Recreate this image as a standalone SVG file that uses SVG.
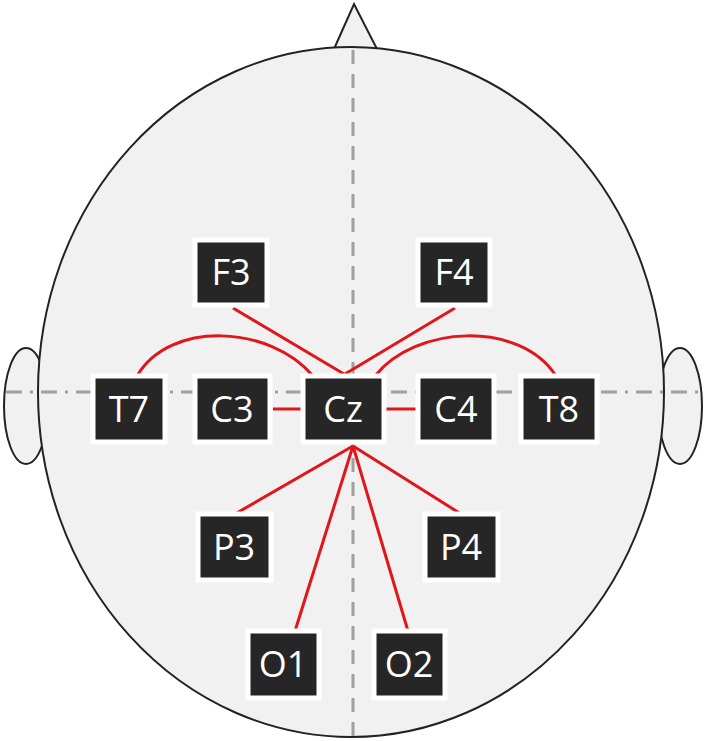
<svg xmlns="http://www.w3.org/2000/svg" width="708" height="741" viewBox="0 0 708 741">
<style>
.head{fill:#f1f1f1;stroke:#222;stroke-width:2}
.guide{stroke:#a0a0a0;stroke-width:3;fill:none}
.n rect{fill:#262626;stroke:#fff;stroke-width:5}
.n text{fill:#fff;font-family:"Open Sans","DejaVu Sans",sans-serif;font-size:36px;text-anchor:middle}
.c{stroke:#e0161b;stroke-width:3;fill:none}
</style>
<rect width="708" height="741" fill="#fff"/>
<g id="head">
<ellipse class="head" cx="26" cy="406" rx="22" ry="58"/>
<ellipse class="head" cx="680" cy="406" rx="22" ry="58"/>
<path class="head" d="M334,49 L354,4 L377,49 Z"/>
<ellipse class="head" cx="351" cy="392" rx="313" ry="345"/>
<line class="guide" x1="353" y1="50" x2="353" y2="737" stroke-dasharray="14,10"/>
<line class="guide" x1="6" y1="392" x2="700" y2="392" stroke-dasharray="16,8,3,8"/>
</g>
<g id="connectors">
<line class="c" x1="233" y1="308" x2="344" y2="374"/>
<line class="c" x1="455" y1="308" x2="345" y2="374"/>
<path class="c" d="M137,376 C170,320 270,325 313,376"/>
<path class="c" d="M375,376 C415,325 520,320 556,376"/>
<line class="c" x1="273" y1="409" x2="303" y2="409"/>
<line class="c" x1="384" y1="409" x2="416" y2="409"/>
<line class="c" x1="353" y1="446" x2="235" y2="514"/>
<line class="c" x1="353" y1="446" x2="295" y2="631"/>
<line class="c" x1="353" y1="446" x2="408" y2="631"/>
<line class="c" x1="353" y1="446" x2="461" y2="514"/>
</g>
<g id="F3" class="n"><rect x="195" y="240" width="72" height="65"/><text x="231" y="285">F3</text></g>
<g id="F4" class="n"><rect x="418" y="240" width="72" height="65"/><text x="454" y="285">F4</text></g>
<g id="T7" class="n"><rect x="93" y="376" width="72" height="66"/><text x="129" y="422">T7</text></g>
<g id="C3" class="n"><rect x="195" y="376" width="75" height="66"/><text x="232" y="422">C3</text></g>
<g id="Cz" class="n"><rect x="303" y="376" width="81" height="66"/><text x="343" y="422">Cz</text></g>
<g id="C4" class="n"><rect x="418" y="376" width="76" height="66"/><text x="456" y="422">C4</text></g>
<g id="T8" class="n"><rect x="521" y="376" width="76" height="66"/><text x="559" y="422">T8</text></g>
<g id="P3" class="n"><rect x="198" y="514" width="73" height="66"/><text x="234" y="560">P3</text></g>
<g id="P4" class="n"><rect x="425" y="514" width="73" height="66"/><text x="461" y="560">P4</text></g>
<g id="O1" class="n"><rect x="248" y="631" width="71" height="67"/><text x="283" y="677">O1</text></g>
<g id="O2" class="n"><rect x="374" y="631" width="71" height="67"/><text x="409" y="677">O2</text></g>
</svg>
